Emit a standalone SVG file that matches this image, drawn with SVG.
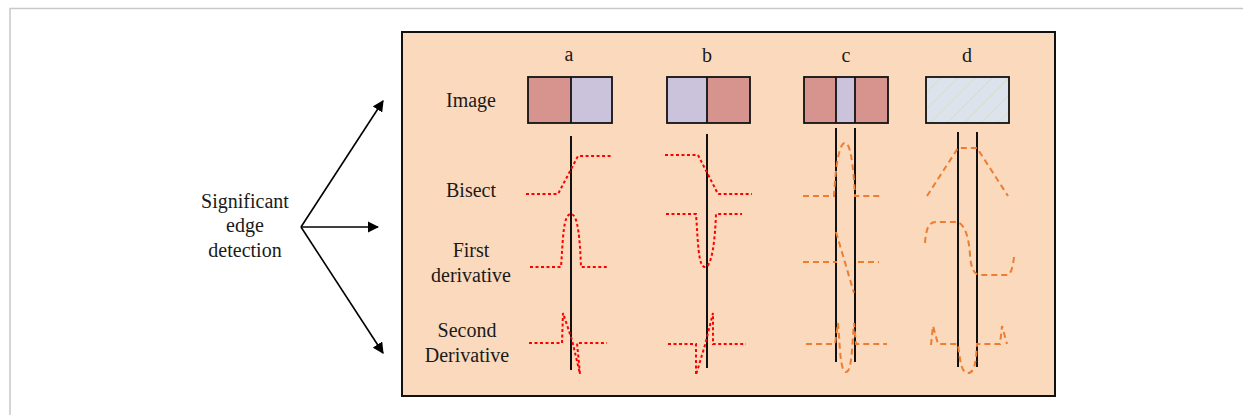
<svg xmlns="http://www.w3.org/2000/svg" width="1243" height="415" viewBox="0 0 1243 415">
  <style>
    .lbl { font-family: "Liberation Serif", "DejaVu Serif", serif; font-size: 20px; fill: #1a1a1a; text-anchor: middle; }
    .frame { fill: none; stroke: #c8c8c8; stroke-width: 1.5; }
    .img { stroke: #111; stroke-width: 1.8; }
    .red { fill: #d7948f; }
    .lav { fill: #cbc3db; }
    .axis { stroke: #111; stroke-width: 2; fill: none; }
    .sigR { fill: none; stroke: #ff0000; stroke-width: 2; stroke-dasharray: 3 2.5; }
    .sigO { fill: none; stroke: #ed7d31; stroke-width: 2; stroke-dasharray: 6 4; }
    .arrow { stroke: #000; stroke-width: 1.6; fill: none; marker-end: url(#head); }
  </style>
  <defs>
    <marker id="head" viewBox="0 0 10 10" refX="9" refY="5" markerWidth="7" markerHeight="7" markerUnits="strokeWidth" orient="auto">
      <path d="M0,0 L10,5 L0,10 Z" fill="#000"/>
    </marker>
    <pattern id="hatch" width="12" height="12" patternUnits="userSpaceOnUse" patternTransform="rotate(45)">
      <rect width="12" height="12" fill="#dce3ec"/>
      <line x1="0" y1="0" x2="0" y2="12" stroke="#cfdfb8" stroke-width="1.2"/>
    </pattern>
  </defs>

  <rect width="1243" height="415" fill="#fff"/>
  <path class="frame" d="M1243,8.5 H10 V415"/>

  <!-- left label and fan of arrows -->
  <g id="source">
    <text class="lbl" x="245" y="208">Significant</text>
    <text class="lbl" x="245" y="232">edge</text>
    <text class="lbl" x="245" y="257">detection</text>
  </g>
  <g id="connectors">
    <path class="arrow" d="M301,227 L383,101"/>
    <path class="arrow" d="M301,227 L378,227"/>
    <path class="arrow" d="M301,227 L383,353"/>
  </g>

  <!-- panel -->
  <g id="panel">
    <rect x="402" y="32" width="653" height="364" fill="#fad9bc" stroke="#111" stroke-width="2"/>
    <text class="lbl" x="471" y="107">Image</text>
    <text class="lbl" x="471" y="197">Bisect</text>
    <text class="lbl" x="471" y="257">First</text>
    <text class="lbl" x="471" y="282">derivative</text>
    <text class="lbl" x="467" y="337">Second</text>
    <text class="lbl" x="467" y="362">Derivative</text>
  </g>

  <!-- case a: dark to light step -->
  <g id="case-a">
    <text class="lbl" x="569" y="61">a</text>
    <rect class="red" x="528" y="77" width="43" height="46"/>
    <rect class="lav" x="571" y="77" width="41" height="46"/>
    <rect class="img" x="528" y="77" width="84" height="46" fill="none"/>
    <line class="img" x1="571" y1="77" x2="571" y2="123"/>
    <line class="axis" x1="571" y1="136" x2="571" y2="370"/>
    <path class="sigR" d="M526,194 H558 L578,156 H613"/>
    <path class="sigR" d="M530,267 H561 C563,240 563,214 571,214 C578,214 580,240 581,267 H607"/>
    <path class="sigR" d="M529,343 H562 L563,313 L572,340 L580,374 L577,343 H607"/>
  </g>

  <!-- case b: light to dark step -->
  <g id="case-b">
    <text class="lbl" x="707" y="62">b</text>
    <rect class="lav" x="667" y="77" width="40" height="46"/>
    <rect class="red" x="707" y="77" width="43" height="46"/>
    <rect class="img" x="667" y="77" width="83" height="46" fill="none"/>
    <line class="img" x1="707" y1="77" x2="707" y2="123"/>
    <line class="axis" x1="707" y1="134" x2="707" y2="368"/>
    <path class="sigR" d="M665,155 H698 L718,194 H752"/>
    <path class="sigR" d="M666,214 H696 C698,240 698,267 705,267 C712,267 715,240 716,214 H742"/>
    <path class="sigR" d="M668,344 H696 L696,375 L705,345 L713,313 L713,344 H746"/>
  </g>

  <!-- case c: thin line -->
  <g id="case-c">
    <text class="lbl" x="846" y="62">c</text>
    <rect class="red" x="804" y="77" width="32" height="46"/>
    <rect class="lav" x="836" y="77" width="19" height="46"/>
    <rect class="red" x="855" y="77" width="33" height="46"/>
    <rect class="img" x="804" y="77" width="84" height="46" fill="none"/>
    <line class="img" x1="836" y1="77" x2="836" y2="123"/>
    <line class="img" x1="855" y1="77" x2="855" y2="123"/>
    <line class="axis" x1="836" y1="128" x2="836" y2="362"/>
    <line class="axis" x1="855" y1="128" x2="855" y2="362"/>
    <path class="sigO" d="M803,196 H834 C836,160 840,143 845,143 C850,143 853,160 855,196 H883"/>
    <path class="sigO" d="M803,262 H837"/>
    <path class="sigO" d="M858,262 H879"/>
    <path class="sigO" d="M836,232 L854,293"/>
    <path class="sigO" d="M806,344 H835 L838,323 C840,345 840,372 846,372 C852,372 852,345 854,323 L856,344 H887"/>
  </g>

  <!-- case d: textured region -->
  <g id="case-d">
    <text class="lbl" x="967" y="62">d</text>
    <rect x="926" y="77" width="83" height="46" fill="url(#hatch)"/>
    <rect class="img" x="926" y="77" width="83" height="46" fill="none"/>
    <line class="axis" x1="958" y1="132" x2="958" y2="367"/>
    <line class="axis" x1="977" y1="132" x2="977" y2="367"/>
    <path class="sigO" d="M927,196 L958,148 H977 L1008,196"/>
    <path class="sigO" d="M925,243 C926,228 929,222 936,222 H958 C966,226 969,240 970,255 C971,268 974,275 980,275 H1007 C1011,275 1013,266 1014,257"/>
    <path class="sigO" d="M931,345 L933,326 L938,344 H958 C960,360 961,373 968,373 C975,373 976,360 977,344 H1000 L1002,326 L1007,344"/>
  </g>
</svg>
